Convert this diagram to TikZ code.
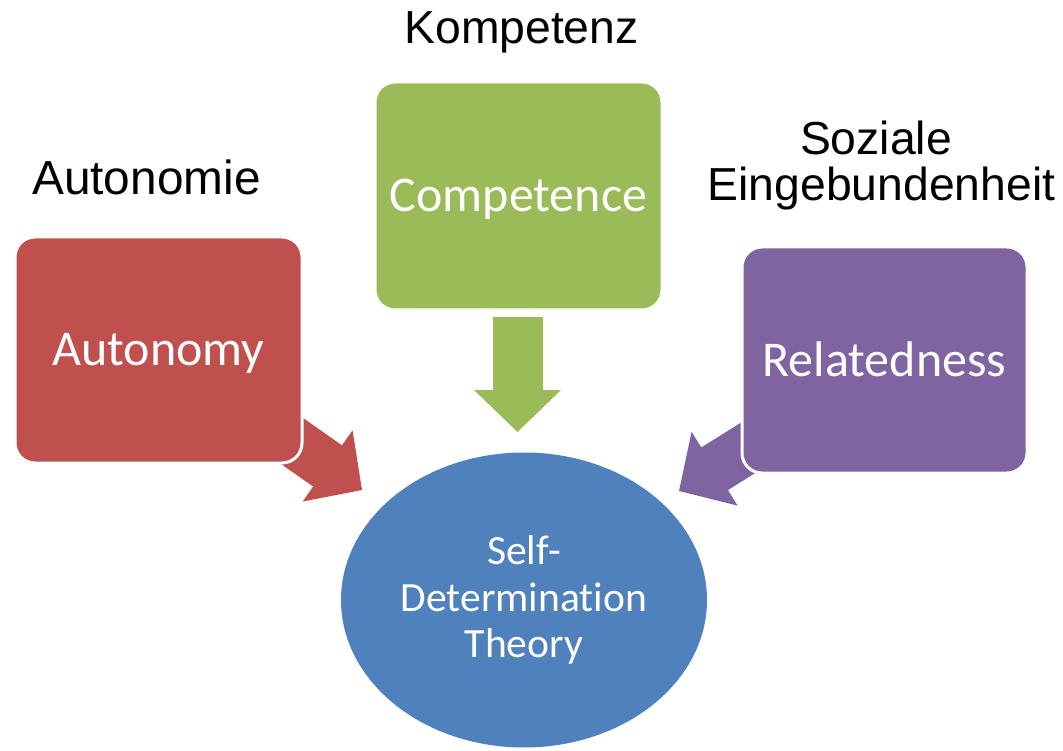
\documentclass[tikz,border=0pt]{standalone}
\usepackage{fontspec}
\setmainfont{Liberation Sans}
\newfontfamily\calfont[Ligatures=NoCommon]{Carlito}
\usetikzlibrary{shapes.geometric,arrows.meta,calc}
\pgfdeclarelayer{background}
\pgfsetlayers{background,main}
\definecolor{autred}{HTML}{C0504D}
\definecolor{compgreen}{HTML}{9BBB59}
\definecolor{relpurple}{HTML}{8064A2}
\definecolor{sdtblue}{HTML}{4F81BD}
\tikzset{
  box/.style={rectangle, rounded corners=20pt, draw=white, line width=3pt,
    text=white, inner sep=0pt, text height=32pt, text depth=0pt,
    font=\calfont\fontsize{50}{60}\selectfont},
  lab/.style={inner sep=0pt, text=black, font=\fontsize{46.3}{52}\selectfont},
  blockarrow/.style={line width=50pt,
    -{Triangle[width=87pt,length=42pt,line width=0pt]}},
  shaft/.style={line width=50pt}
}
\begin{document}
\begin{tikzpicture}[x=1pt,y=-1pt]
\useasboundingbox (0,0) rectangle (1063,751);
% boxes
\node[box, fill=autred, minimum width=287pt, minimum height=226pt] (Aut) at (158.5,350) {Autonomy};
\node[box, fill=compgreen, minimum width=287pt, minimum height=228pt] (Comp) at (518.5,196) {Competence};
\node[box, fill=relpurple, minimum width=285pt, minimum height=226pt] (Rel) at (884.5,360) {Relatedness};
% central ellipse
\node[ellipse, fill=sdtblue, minimum width=366pt, minimum height=295pt, inner sep=0pt,
  text=white, align=center, font=\calfont\fontsize{41.6}{46.5}\selectfont] (SDT) at (524,600)
  {Self-\\Determination\\Theory};
% labels
\node[lab, anchor=base] (lK) at (521.5,44) {Kompetenz};
\node[lab, anchor=base, font=\fontsize{47.8}{52}\selectfont] (lA) at (146.5,195) {Autonomie};
\node[lab, anchor=base] (lS1) at (876,155) {Soziale};
\node[lab, anchor=base] (lS2) at (881.5,201) {Eingebundenheit};
% arrow end points
\coordinate (tipG) at (517.5,432);
\coordinate (g0) at (517.5,317);
\coordinate (tipR) at (362,490);
\coordinate (r0) at ($(tipR)+(215:125)$);
\coordinate (tipP) at (679,491);
\coordinate (p0) at ($(tipP)+(328:125)$);
\begin{pgfonlayer}{background}
\draw[blockarrow, compgreen] (g0) -- (tipG);
\draw[shaft, compgreen] (g0) -- ($(tipG)+(0,-38)$);
\draw[blockarrow, autred] (r0) -- (tipR);
\draw[shaft, autred] (r0) -- ($(r0)!0.7!(tipR)$);
\draw[blockarrow, relpurple] (p0) -- (tipP);
\draw[shaft, relpurple] (p0) -- ($(p0)!0.7!(tipP)$);
\end{pgfonlayer}
\end{tikzpicture}
\end{document}
